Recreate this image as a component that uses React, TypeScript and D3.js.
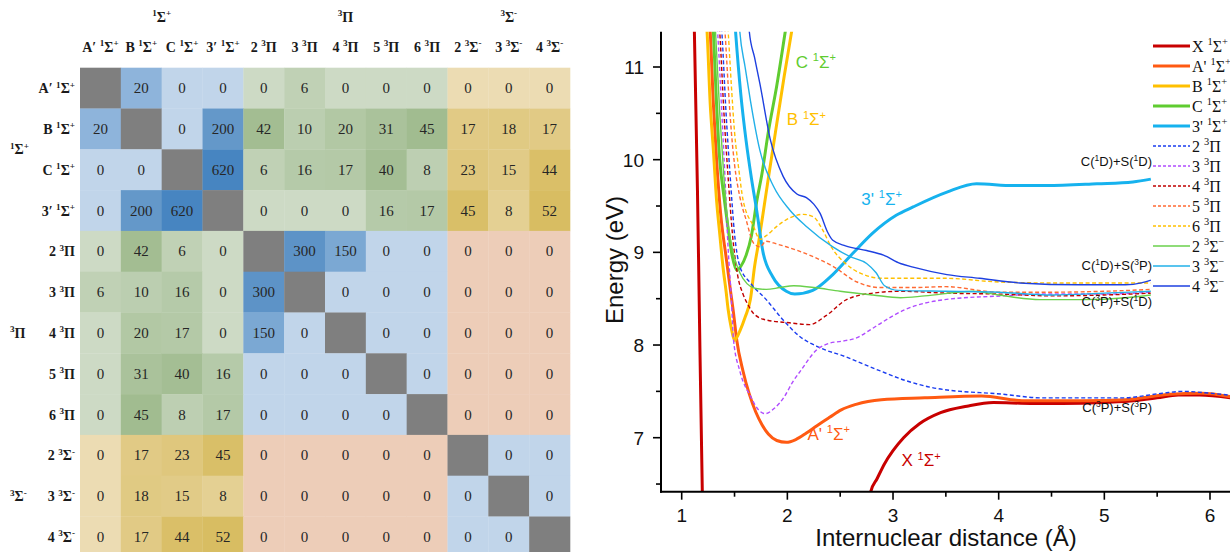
import React from "react";
import * as d3 from "d3";

// ---------------- Matrix data ----------------
const states = [
  "A′ ^{1}Σ^{+}", "B ^{1}Σ^{+}", "C ^{1}Σ^{+}", "3′ ^{1}Σ^{+}",
  "2 ^{3}Π", "3 ^{3}Π", "4 ^{3}Π", "5 ^{3}Π", "6 ^{3}Π",
  "2 ^{3}Σ^{-}", "3 ^{3}Σ^{-}", "4 ^{3}Σ^{-}",
];
const stateGroup = [0, 0, 0, 0, 1, 1, 1, 1, 1, 2, 2, 2];
const groupLabels = ["^{1}Σ^{+}", "^{3}Π", "^{3}Σ^{-}"];
const coupling: (number | null)[][] = [
  [null, 20, 0, 0, 0, 6, 0, 0, 0, 0, 0, 0],
  [20, null, 0, 200, 42, 10, 20, 31, 45, 17, 18, 17],
  [0, 0, null, 620, 6, 16, 17, 40, 8, 23, 15, 44],
  [0, 200, 620, null, 0, 0, 0, 16, 17, 45, 8, 52],
  [0, 42, 6, 0, null, 300, 150, 0, 0, 0, 0, 0],
  [6, 10, 16, 0, 300, null, 0, 0, 0, 0, 0, 0],
  [0, 20, 17, 0, 150, 0, null, 0, 0, 0, 0, 0],
  [0, 31, 40, 16, 0, 0, 0, null, 0, 0, 0, 0],
  [0, 45, 8, 17, 0, 0, 0, 0, null, 0, 0, 0],
  [0, 17, 23, 45, 0, 0, 0, 0, 0, null, 0, 0],
  [0, 18, 15, 8, 0, 0, 0, 0, 0, 0, null, 0],
  [0, 17, 44, 52, 0, 0, 0, 0, 0, 0, 0, null],
];

// ---------------- Potential curves (r in Å, E in eV) ----------------
type P = [number, number] | null;
const curveX: P[] = [[1.10, 11.7], [1.12, 11.38], [1.16, 8.9], [1.195, 6.42], [1.20, 6.2], null,
  [2.76, 6.2], [2.79, 6.42], [2.85, 6.56], [2.92, 6.72], [3.0, 6.86], [3.1, 7.0], [3.25, 7.15], [3.45, 7.27],
  [3.7, 7.34], [3.95, 7.38], [4.3, 7.37], [4.6, 7.37], [5.0, 7.38], [5.3, 7.40], [5.5, 7.43], [5.7, 7.46],
  [5.9, 7.46], [6.25, 7.42]];
const curveA: P[] = [[1.25, 11.7], [1.27, 11.38], [1.30, 10.6], [1.33, 10.0], [1.37, 9.4], [1.42, 8.95],
  [1.46, 8.6], [1.49, 8.35], [1.52, 8.06], [1.58, 7.72], [1.64, 7.47], [1.70, 7.28], [1.76, 7.14], [1.82, 7.04],
  [1.90, 6.97], [1.99, 6.95], [2.08, 6.98], [2.18, 7.05], [2.28, 7.13], [2.4, 7.22], [2.51, 7.30], [2.65, 7.36],
  [2.89, 7.41], [3.3, 7.43], [3.84, 7.45], [4.22, 7.40], [4.79, 7.40], [5.2, 7.41], [5.36, 7.43], [5.62, 7.47],
  [5.92, 7.48], [6.25, 7.43]];
const curveB: P[] = [[1.22, 11.7], [1.24, 11.38], [1.27, 10.6], [1.30, 10.1], [1.33, 9.56], [1.36, 9.2],
  [1.39, 8.85], [1.42, 8.58], [1.44, 8.38], [1.47, 8.18], [1.50, 8.05], [1.53, 8.1], [1.55, 8.15], [1.60, 8.3],
  [1.65, 8.49], [1.69, 8.85], [1.73, 9.12], [1.77, 9.42], [1.82, 9.8], [1.90, 10.39], [1.97, 10.9], [2.04, 11.38],
  [2.07, 11.6]];
const curveC: P[] = [[1.29, 11.7], [1.30, 11.38], [1.33, 10.6], [1.36, 10.0], [1.40, 9.6], [1.44, 9.25],
  [1.48, 8.95], [1.52, 8.81], [1.56, 8.85], [1.61, 8.97], [1.66, 9.18], [1.71, 9.55], [1.76, 9.85], [1.82, 10.3],
  [1.90, 10.8], [1.98, 11.38], [2.01, 11.6]];
const curve3p: P[] = [[1.49, 11.7], [1.51, 11.38], [1.56, 10.7], [1.61, 10.2], [1.66, 9.8], [1.71, 9.45],
  [1.77, 9.0], [1.86, 8.74], [1.99, 8.58], [2.07, 8.55], [2.24, 8.59], [2.43, 8.76], [2.62, 8.99], [2.81, 9.21],
  [3.03, 9.40], [3.19, 9.49], [3.51, 9.65], [3.79, 9.74], [4.14, 9.72], [4.45, 9.72], [4.93, 9.74], [5.27, 9.76],
  [5.44, 9.79]];
const curve2Pi: P[] = [[1.36, 11.7], [1.38, 11.38], [1.42, 10.5], [1.46, 9.8], [1.50, 9.2], [1.55, 8.85],
  [1.65, 8.67], [1.80, 8.49], [1.96, 8.27], [2.12, 8.09], [2.31, 7.97], [2.56, 7.87], [2.75, 7.78], [2.88, 7.72],
  [3.11, 7.62], [3.42, 7.53], [4.03, 7.47], [4.41, 7.43], [5.17, 7.43], [5.55, 7.48], [5.74, 7.50], [6.0, 7.48],
  [6.25, 7.45]];
const curve3Pi: P[] = [[1.32, 11.7], [1.34, 11.38], [1.38, 10.5], [1.41, 9.8], [1.44, 9.03], [1.47, 8.5],
  [1.49, 8.06], [1.55, 7.72], [1.65, 7.45], [1.72, 7.31], [1.79, 7.26], [1.88, 7.32], [1.97, 7.44], [2.05, 7.6],
  [2.13, 7.73], [2.28, 7.95], [2.40, 8.02], [2.51, 8.04], [2.66, 8.08], [2.78, 8.16], [2.89, 8.24], [3.11, 8.38],
  [3.49, 8.49], [4.03, 8.53], [4.41, 8.55], [5.0, 8.55], [5.44, 8.57]];
const curve4Pi: P[] = [[1.34, 11.7], [1.36, 11.38], [1.40, 10.5], [1.44, 9.8], [1.48, 9.2], [1.53, 8.75],
  [1.58, 8.55], [1.63, 8.43], [1.68, 8.34], [1.80, 8.27], [2.02, 8.24], [2.21, 8.22], [2.37, 8.32], [2.56, 8.49],
  [2.81, 8.56], [3.07, 8.58], [3.5, 8.56], [4.0, 8.55], [4.5, 8.53], [5.0, 8.54], [5.44, 8.56]];
const curve5Pi: P[] = [[1.39, 11.7], [1.41, 11.38], [1.44, 10.8], [1.47, 10.3], [1.50, 9.95], [1.55, 9.6],
  [1.61, 9.35], [1.68, 9.10], [1.74, 9.06], [1.80, 9.12], [1.90, 9.09], [1.99, 9.06], [2.25, 8.95], [2.43, 8.85],
  [2.66, 8.68], [2.88, 8.62], [3.2, 8.62], [3.5, 8.63], [4.0, 8.57], [4.5, 8.57], [5.0, 8.58], [5.44, 8.60]];
const curve6Pi: P[] = [[1.42, 11.7], [1.44, 11.38], [1.47, 10.8], [1.50, 10.3], [1.54, 9.9], [1.58, 9.57],
  [1.68, 9.28], [1.74, 9.14], [1.80, 9.18], [1.90, 9.28], [2.02, 9.37], [2.15, 9.41], [2.25, 9.38], [2.33, 9.25],
  [2.42, 9.05], [2.55, 8.88], [2.70, 8.77], [2.90, 8.72], [3.5, 8.72], [4.0, 8.68], [4.5, 8.67], [5.0, 8.67],
  [5.44, 8.67]];
const curve2Sg: P[] = [[1.30, 11.7], [1.32, 11.38], [1.36, 10.5], [1.40, 9.8], [1.44, 9.3], [1.49, 8.98],
  [1.55, 8.78], [1.62, 8.66], [1.70, 8.61], [1.80, 8.60], [1.93, 8.62], [2.06, 8.64], [2.25, 8.62], [2.50, 8.58],
  [2.81, 8.54], [3.07, 8.51], [3.3, 8.53], [3.76, 8.58], [4.0, 8.54], [4.39, 8.49], [4.8, 8.49], [5.2, 8.51],
  [5.44, 8.54]];
const curve3Sg: P[] = [[1.53, 11.7], [1.55, 11.38], [1.60, 11.0], [1.65, 10.64], [1.74, 10.10], [1.87, 9.71],
  [2.02, 9.46], [2.18, 9.28], [2.43, 9.06], [2.60, 8.95], [2.75, 8.88], [2.84, 8.78], [2.92, 8.64], [3.05, 8.59],
  [3.5, 8.58], [4.0, 8.57], [4.5, 8.54], [5.0, 8.56], [5.44, 8.58]];
const curve4Sg: P[] = [[1.62, 11.7], [1.64, 11.38], [1.69, 11.1], [1.74, 10.82], [1.84, 10.21], [1.96, 9.82],
  [2.09, 9.63], [2.18, 9.59], [2.25, 9.52], [2.31, 9.42], [2.38, 9.22], [2.43, 9.13], [2.55, 9.07], [2.75, 9.02],
  [2.91, 8.97], [3.07, 8.88], [3.19, 8.84], [3.51, 8.76], [3.82, 8.72], [4.2, 8.67], [4.77, 8.65], [5.2, 8.65],
  [5.35, 8.67], [5.44, 8.70]];

const seriesNames = ["X ^{1}Σ^{+}", "A' ^{1}Σ^{+}", "B ^{1}Σ^{+}", "C ^{1}Σ^{+}", "3' ^{1}Σ^{+}",
  "2 ^{3}Π", "3 ^{3}Π", "4 ^{3}Π", "5 ^{3}Π", "6 ^{3}Π", "2 ^{3}Σ^{−}", "3 ^{3}Σ^{−}", "4 ^{3}Σ^{−}"];
const seriesData = [curveX, curveA, curveB, curveC, curve3p, curve2Pi, curve3Pi, curve4Pi, curve5Pi, curve6Pi,
  curve2Sg, curve3Sg, curve4Sg];
const seriesKind = ["thick", "thick", "thick", "thick", "thick", "dash", "dash", "dash", "dash", "dash",
  "thin", "thin", "thin"];
const seriesColors = ["#c80000", "#ff5a12", "#ffc000", "#5fcc30", "#16b2ee", "#1a3cf0", "#b04cff", "#c00000",
  "#ff6a33", "#ffc000", "#6ad04c", "#22b0e8", "#1e40e0"];

const xTicks = [1, 2, 3, 4, 5, 6];
const yTicks = [7, 8, 9, 10, 11];

const stateLabels = [
  { text: "C ^{1}Σ^{+}", r: 2.08, e: 10.99, color: "#5fcc30" },
  { text: "B ^{1}Σ^{+}", r: 1.995, e: 10.37, color: "#ffc000" },
  { text: "3' ^{1}Σ^{+}", r: 2.70, e: 9.51, color: "#16b2ee" },
  { text: "A' ^{1}Σ^{+}", r: 2.19, e: 6.98, color: "#ff5a12" },
  { text: "X ^{1}Σ^{+}", r: 3.08, e: 6.69, color: "#c80000" },
];
const limitLabels = [
  { text: "C(^{1}D)+S(^{1}D)", e: 9.93 },
  { text: "C(^{1}D)+S(^{3}P)", e: 8.81 },
  { text: "C(^{3}P)+S(^{1}D)", e: 8.42 },
  { text: "C(^{3}P)+S(^{3}P)", e: 7.28 },
];

function parseRich(s: string) {
  const parts: { t: string; sup: boolean }[] = [];
  const re = /\^\{([^}]*)\}/g;
  let last = 0;
  let m: RegExpExecArray | null;
  while ((m = re.exec(s))) {
    if (m.index > last) parts.push({ t: s.slice(last, m.index), sup: false });
    parts.push({ t: m[1], sup: true });
    last = re.lastIndex;
  }
  if (last < s.length) parts.push({ t: s.slice(last), sup: false });
  return parts;
}

function Rich({ text, fs }: { text: string; fs: number }) {
  let shift = 0;
  return (
    <>
      {parseRich(text).map((p, i) => {
        const target = p.sup ? -fs * 0.4 : 0;
        const dy = target - shift;
        shift = target;
        return (
          <tspan key={i} dy={dy} fontSize={p.sup ? fs * 0.65 : fs}>
            {p.t}
          </tspan>
        );
      })}
    </>
  );
}

export default function App() {
  const W = 1230, H = 552;
  // matrix scales
  const n = states.length;
  const mx = d3.scaleBand<number>().domain(d3.range(n)).range([80, 570]);
  const my = d3.scaleBand<number>().domain(d3.range(n)).range([67.7, 67.7 + 12 * 40.8]);
  const blue = d3.scaleLinear<string>().domain([0, 20, 150, 200, 620])
    .range(["#c1d5ea", "#8eb4db", "#7ba8d3", "#6498c9", "#4785c1"]).clamp(true);
  const green = d3.scalePow<string>().exponent(0.6).domain([0, 45]).range(["#cddac5", "#a1bc90"]).clamp(true);
  const gold = d3.scalePow<string>().exponent(0.5).domain([0, 52]).range(["#ecdcb3", "#d8bd62"]).clamp(true);
  const cellColor = (i: number, j: number, v: number | null) => {
    if (i === j || v === null) return "#7f7f7f";
    const a = stateGroup[i], b = stateGroup[j];
    if (a === b) return blue(v);
    const s = new Set([a, b]);
    if (s.has(0) && s.has(1)) return green(v);
    if (s.has(0) && s.has(2)) return gold(v);
    return "#edcdb8";
  };
  const groupCenter = (g: number, band: d3.ScaleBand<number>) => {
    const idx = d3.range(n).filter((k) => stateGroup[k] === g);
    return (band(idx[0])! + band(idx[idx.length - 1])! + band.bandwidth()) / 2;
  };

  // plot scales
  const x = d3.scaleLinear().domain([1, 6]).range([681.7, 1210]);
  const y = d3.scaleLinear().domain([7, 11]).range([437.7, 67]);
  const L = 661, R = 1230, T = 31.7, B = 491.7;
  const line = d3.line<P>()
    .defined((d) => d !== null)
    .x((d) => x(d![0]))
    .y((d) => y(d![1]))
    .curve(d3.curveMonotoneX);
  const xMinor = d3.range(1.5, 6.3, 1);
  const yMinor = d3.range(6.5, 11.4, 1);
  const sans = "'Liberation Sans', Arial, sans-serif";
  const serif = "'Liberation Serif', 'Times New Roman', serif";

  return (
    <svg width={W} height={H} style={{ position: "absolute", left: 0, top: 0, background: "#fff" }}>
      <rect width={W} height={H} fill="#fff" />
      {/* ---------- Matrix ---------- */}
      <g fontFamily={serif} style={{ whiteSpace: "pre" }}>
        {coupling.map((row, i) =>
          row.map((v, j) => (
            <rect key={`c${i}-${j}`} x={mx(j)} y={my(i)} width={mx.bandwidth() + 0.3}
              height={my.bandwidth() + 0.3} fill={cellColor(i, j, v)} />
          ))
        )}
        {coupling.map((row, i) =>
          row.map((v, j) =>
            v === null ? null : (
              <text key={`t${i}-${j}`} x={mx(j)! + mx.bandwidth() / 2} y={my(i)! + my.bandwidth() / 2 + 5}
                textAnchor="middle" fontSize={15} fill="#262626">{v}</text>
            )
          )
        )}
        {states.map((s, k) => (
          <text key={`h${k}`} x={mx(k)! + mx.bandwidth() / 2} y={52} textAnchor="middle"
            fontWeight="bold" fill="#1a1a1a"><Rich text={s} fs={14} /></text>
        ))}
        {states.map((s, k) => (
          <text key={`r${k}`} x={75} y={my(k)! + my.bandwidth() / 2 + 5} textAnchor="end"
            fontWeight="bold" fill="#1a1a1a"><Rich text={s} fs={14} /></text>
        ))}
        {groupLabels.map((g, k) => (
          <text key={`gc${k}`} x={groupCenter(k, mx)} y={22} textAnchor="middle" fontWeight="bold"
            fill="#1a1a1a"><Rich text={g} fs={14} /></text>
        ))}
        {groupLabels.map((g, k) => (
          <text key={`gr${k}`} x={10} y={groupCenter(k, my) + 5} textAnchor="start" fontWeight="bold"
            fill="#1a1a1a"><Rich text={g} fs={14} /></text>
        ))}
      </g>

      {/* ---------- Potential curves ---------- */}
      <defs>
        <clipPath id="plotClip">
          <rect x={L} y={T} width={R - L} height={B - T} />
        </clipPath>
      </defs>
      <g clipPath="url(#plotClip)" fill="none">
        {seriesData.map((d, k) => (
          <path key={`s${k}`} d={line(d) || ""} stroke={seriesColors[k]}
            strokeWidth={seriesKind[k] === "thick" ? 3 : 1.4}
            strokeDasharray={seriesKind[k] === "dash" ? "4 2.5" : undefined} />
        ))}
      </g>
      {/* axes */}
      <g stroke="#000" strokeWidth={2} fill="none">
        <line x1={L} y1={T} x2={L} y2={B + 1} />
        <line x1={L - 1} y1={B} x2={R} y2={B} />
        {xTicks.map((t) => <line key={`xt${t}`} x1={x(t)} x2={x(t)} y1={B} y2={B + 8} strokeWidth={1.6} />)}
        {xMinor.map((t) => <line key={`xm${t}`} x1={x(t)} x2={x(t)} y1={B} y2={B + 5} strokeWidth={1.6} />)}
        {yTicks.map((t) => <line key={`yt${t}`} x1={L} x2={L - 8} y1={y(t)} y2={y(t)} strokeWidth={1.6} />)}
        {yMinor.map((t) => <line key={`ym${t}`} x1={L} x2={L - 5} y1={y(t)} y2={y(t)} strokeWidth={1.6} />)}
      </g>
      <g fontFamily={sans} fontSize={19} fill="#111">
        {xTicks.map((t) => (
          <text key={`xl${t}`} x={x(t)} y={522} textAnchor="middle">{t}</text>
        ))}
        {yTicks.map((t) => (
          <text key={`yl${t}`} x={644} y={y(t) + 7} textAnchor="end">{t}</text>
        ))}
        <text x={946} y={546} textAnchor="middle" fontSize={24}>Internuclear distance (Å)</text>
        <text transform={`translate(623,${260}) rotate(-90)`} textAnchor="middle" fontSize={24}>Energy (eV)</text>
      </g>
      {/* curve labels */}
      <g fontFamily={sans} style={{ whiteSpace: "pre" }}>
        {stateLabels.map((l, k) => (
          <text key={`sl${k}`} x={x(l.r)} y={y(l.e)} fill={l.color}><Rich text={l.text} fs={17} /></text>
        ))}
        {limitLabels.map((l, k) => (
          <text key={`ll${k}`} x={1152} y={y(l.e)} textAnchor="end" fill="#111"><Rich text={l.text} fs={13} /></text>
        ))}
      </g>
      {/* legend */}
      <g fontFamily={serif} style={{ whiteSpace: "pre" }}>
        {seriesNames.map((s, k) => {
          const yy = 46 + k * 20;
          return (
            <g key={`lg${k}`}>
              <line x1={1153} x2={1190} y1={yy} y2={yy} stroke={seriesColors[k]}
                strokeWidth={seriesKind[k] === "thick" ? 3 : 1.4}
                strokeDasharray={seriesKind[k] === "dash" ? "3 2" : undefined} />
              <text x={1192} y={yy + 5.5} fill="#111"><Rich text={s} fs={16} /></text>
            </g>
          );
        })}
      </g>
    </svg>
  );
}
